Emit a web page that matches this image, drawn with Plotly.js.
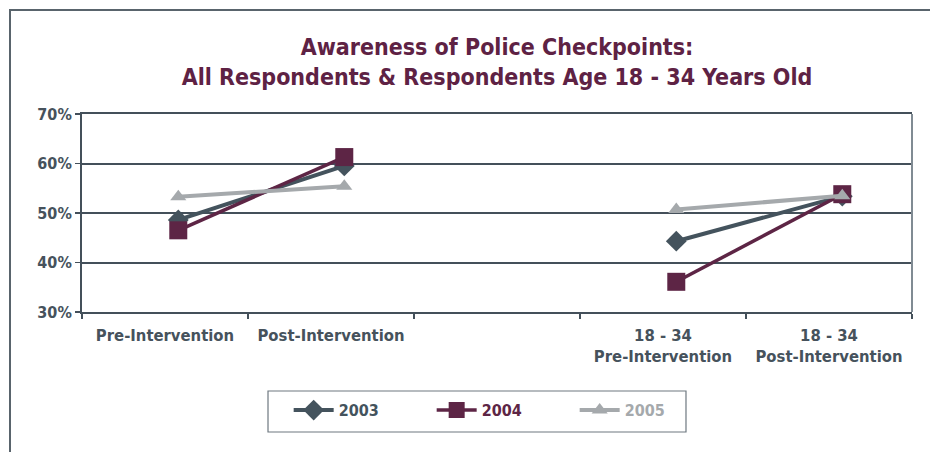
<!DOCTYPE html>
<html>
<head>
<meta charset="utf-8">
<script src="https://cdn.plot.ly/plotly-3.0.1.min.js"></script>
<style>
  html, body { margin: 0; padding: 0; background: #ffffff; }
  #wrap { position: relative; width: 930px; height: 452px; overflow: hidden; }
  #chart { position: absolute; left: 0; top: 0; width: 930px; height: 452px; }
  #frame {
    position: absolute; left: 9px; top: 9px; width: 940px; height: 460px;
    border-top: 2px solid #59646c; border-left: 2px solid #59646c;
    pointer-events: none; z-index: 5;
  }
</style>
</head>
<body>
<div id="wrap">
  <div id="chart"></div>
  <div id="frame"></div>
</div>
<script>
// Survey groups along the x axis (the middle slot is an empty spacer)
const categories = [
  'Pre-Intervention',
  'Post-Intervention',
  ' ',
  '18 - 34<br>Pre-Intervention',
  '18 - 34<br>Post-Intervention'
];

// Share of respondents aware of police checkpoints (%)
const years = ['2003', '2004', '2005'];
const aware2003 = [48.6, 59.5, null, 44.3, 53.4];
const aware2004 = [46.5, 61.3, null, 36.1, 53.8];
const aware2005 = [53.3, 55.4, null, 50.7, 53.5];

const yTicks = [30, 40, 50, 60, 70];
const yTickLabels = ['30%', '40%', '50%', '60%', '70%'];

const FONT = 'DejaVu Sans Condensed, DejaVu Sans, sans-serif';
const SLATE = '#44535d';
const MAROON = '#5d2545';
const GREY = '#a5a9ac';
const INK = '#46525c';
const RULE = '#44505a';

function series(name, values, color, symbol, size, width) {
  return {
    type: 'scatter',
    mode: 'lines+markers',
    x: categories,
    y: values,
    xaxis: 'x2',
    yaxis: 'y',
    connectgaps: false,
    name: '<span style="color:' + color + '">' + name + '</span>',
    line: { color: color, width: width },
    marker: { color: color, symbol: symbol, size: size },
    hoverinfo: 'skip'
  };
}

const data = [
  // empty carrier trace so the labelled category axis knows its categories
  {
    type: 'scatter', mode: 'markers',
    x: categories, y: categories.map(() => null),
    xaxis: 'x', yaxis: 'y',
    showlegend: false, hoverinfo: 'skip'
  },
  series(years[0], aware2003, SLATE, 'diamond', 16, 4),
  series(years[1], aware2004, MAROON, 'square', 18, 3.5),
  series(years[2], aware2005, GREY, 'triangle-up', 14, 4)
];

const layout = {
  width: 930,
  height: 452,
  margin: { l: 82, r: 18, t: 114, b: 140 },
  paper_bgcolor: '#ffffff',
  plot_bgcolor: '#ffffff',
  showlegend: true,
  title: {
    text: 'Awareness of Police Checkpoints:<br>All Respondents &amp; Respondents Age 18 - 34 Years Old',
    font: { family: FONT, size: 23, color: '#5e2244', weight: 700 },
    xref: 'paper', x: 0.5, xanchor: 'center',
    yref: 'container', y: 0.879, yanchor: 'middle'
  },
  xaxis: {
    type: 'category',
    categoryorder: 'array',
    categoryarray: categories,
    range: [-0.5, 4.5],
    tickson: 'boundaries',
    ticks: 'outside',
    ticklen: 5,
    tickwidth: 1.5,
    tickcolor: RULE,
    ticklabelstandoff: 7,
    showline: true,
    mirror: true,
    linecolor: RULE,
    linewidth: 2,
    showgrid: false,
    zeroline: false,
    fixedrange: true,
    tickfont: { family: FONT, size: 16.5, color: INK, weight: 700 }
  },
  xaxis2: {
    type: 'category',
    categoryorder: 'array',
    categoryarray: categories,
    overlaying: 'x',
    range: [-0.58, 4.42],
    visible: false,
    fixedrange: true
  },
  yaxis: {
    range: [30, 70],
    tickvals: yTicks,
    ticktext: yTickLabels,
    ticks: 'outside',
    ticklen: 5,
    tickwidth: 1.5,
    tickcolor: RULE,
    showline: true,
    linecolor: RULE,
    linewidth: 2,
    showgrid: true,
    gridcolor: RULE,
    gridwidth: 2,
    zeroline: false,
    fixedrange: true,
    tickfont: { family: FONT, size: 16, color: INK, weight: 700 }
  },
  shapes: [
    {
      type: 'line', xref: 'paper', yref: 'paper', layer: 'above',
      x0: 1, x1: 1, y0: 0, y1: 1,
      line: { color: '#808b93', width: 2 }
    },
    {
      // legend frame
      type: 'rect', xref: 'paper', yref: 'paper',
      x0: 0.2241, x1: 0.7277, y0: -0.606, y1: -0.399,
      line: { color: '#6e7880', width: 1.2 },
      fillcolor: 'rgba(0,0,0,0)'
    }
  ],
  legend: {
    orientation: 'h',
    xref: 'paper', yref: 'paper',
    x: 0.249, xanchor: 'left',
    y: -0.41, yanchor: 'top',
    borderwidth: 0,
    bgcolor: 'rgba(0,0,0,0)',
    entrywidth: 88,
    itemwidth: 40,
    font: { family: FONT, size: 16, color: INK, weight: 700 }
  }
};

Plotly.newPlot('chart', data, layout, { displayModeBar: false, staticPlot: true });
</script>
</body>
</html>
